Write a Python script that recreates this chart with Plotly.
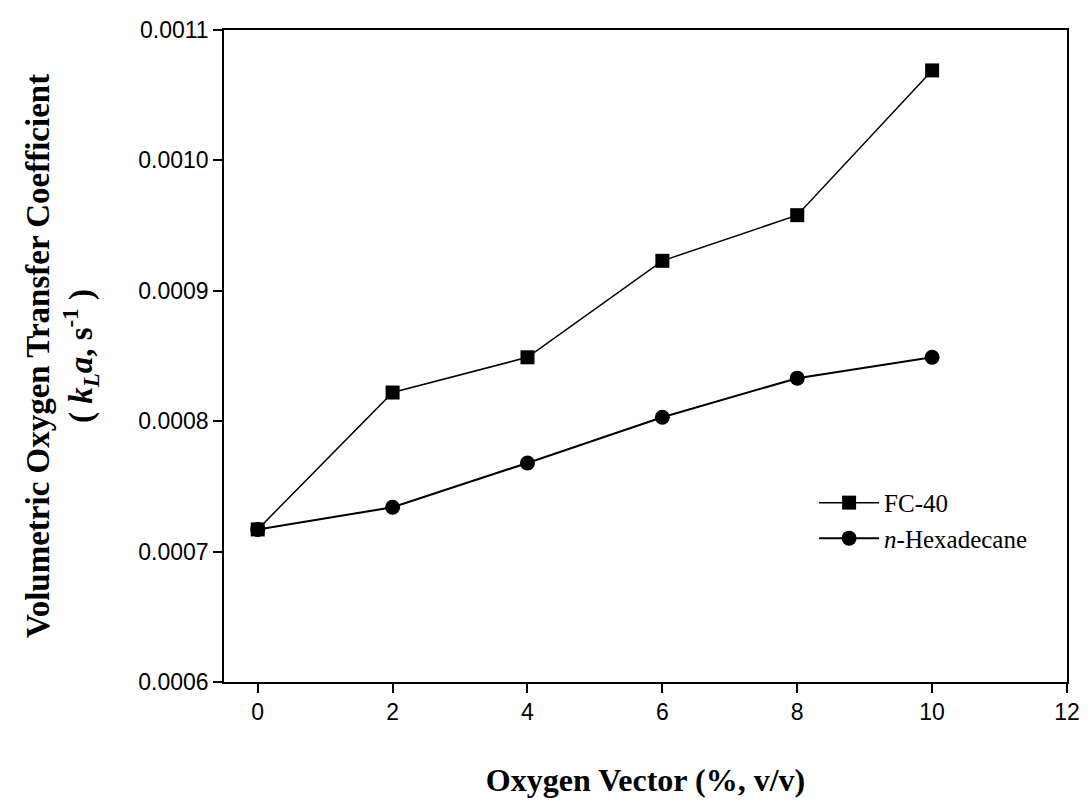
import plotly.graph_objects as go

x_vals = [0, 2, 4, 6, 8, 10]
fc40 = [0.000717, 0.000822, 0.000849, 0.000923, 0.000958, 0.001069]
hexadecane = [0.000717, 0.000734, 0.000768, 0.000803, 0.000833, 0.000849]

serif = "Liberation Serif"
sans = "Liberation Sans"

fig = go.Figure()
fig.add_trace(go.Scatter(
    x=x_vals, y=hexadecane, mode="lines+markers", name="<i>n</i>-Hexadecane",
    line=dict(color="black", width=2),
    marker=dict(symbol="circle", size=15, color="black"),
    legendrank=2,
))
fig.add_trace(go.Scatter(
    x=x_vals, y=fc40, mode="lines+markers", name="FC-40",
    line=dict(color="black", width=1.5),
    marker=dict(symbol="square", size=14, color="black"),
    legendrank=1,
))

fig.update_layout(
    width=1092, height=804,
    margin=dict(l=224, r=14, t=30, b=120),
    paper_bgcolor="white", plot_bgcolor="white",
    showlegend=True,
    legend=dict(
        x=0.70, y=0.31, xanchor="left", yanchor="top",
        font=dict(family=serif, size=25, color="black"),
        bgcolor="rgba(0,0,0,0)", itemwidth=60, tracegroupgap=0,
    ),
    xaxis=dict(
        range=[-0.5, 12], tickmode="array", tickvals=[0, 2, 4, 6, 8, 10, 12],
        showgrid=False, zeroline=False,
        showline=True, linecolor="black", linewidth=1.5, mirror=True,
        ticks="outside", ticklen=9, tickwidth=1.5, tickcolor="black",
        tickfont=dict(family=sans, size=23, color="black"),
        title=dict(text="<b>Oxygen Vector (%, v/v)</b>",
                   font=dict(family=serif, size=32, color="black"), standoff=44),
    ),
    yaxis=dict(
        range=[0.0006, 0.0011], tickmode="array",
        tickvals=[0.0006, 0.0007, 0.0008, 0.0009, 0.0010, 0.0011],
        ticktext=["0.0006", "0.0007", "0.0008", "0.0009", "0.0010", "0.0011"],
        showgrid=False, zeroline=False,
        showline=True, linecolor="black", linewidth=1.5, mirror=True,
        ticks="outside", ticklen=9, tickwidth=1.5, tickcolor="black",
        tickfont=dict(family=sans, size=23, color="black"),
        title=dict(text="<b>Volumetric Oxygen Transfer Coefficient<br>( <i>k</i><sub><i>L</i></sub><i>a</i>, s<sup>-1</sup> )</b>",
                   font=dict(family=serif, size=33, color="black"), standoff=36),
    ),
)

fig.write_html("out.html")
